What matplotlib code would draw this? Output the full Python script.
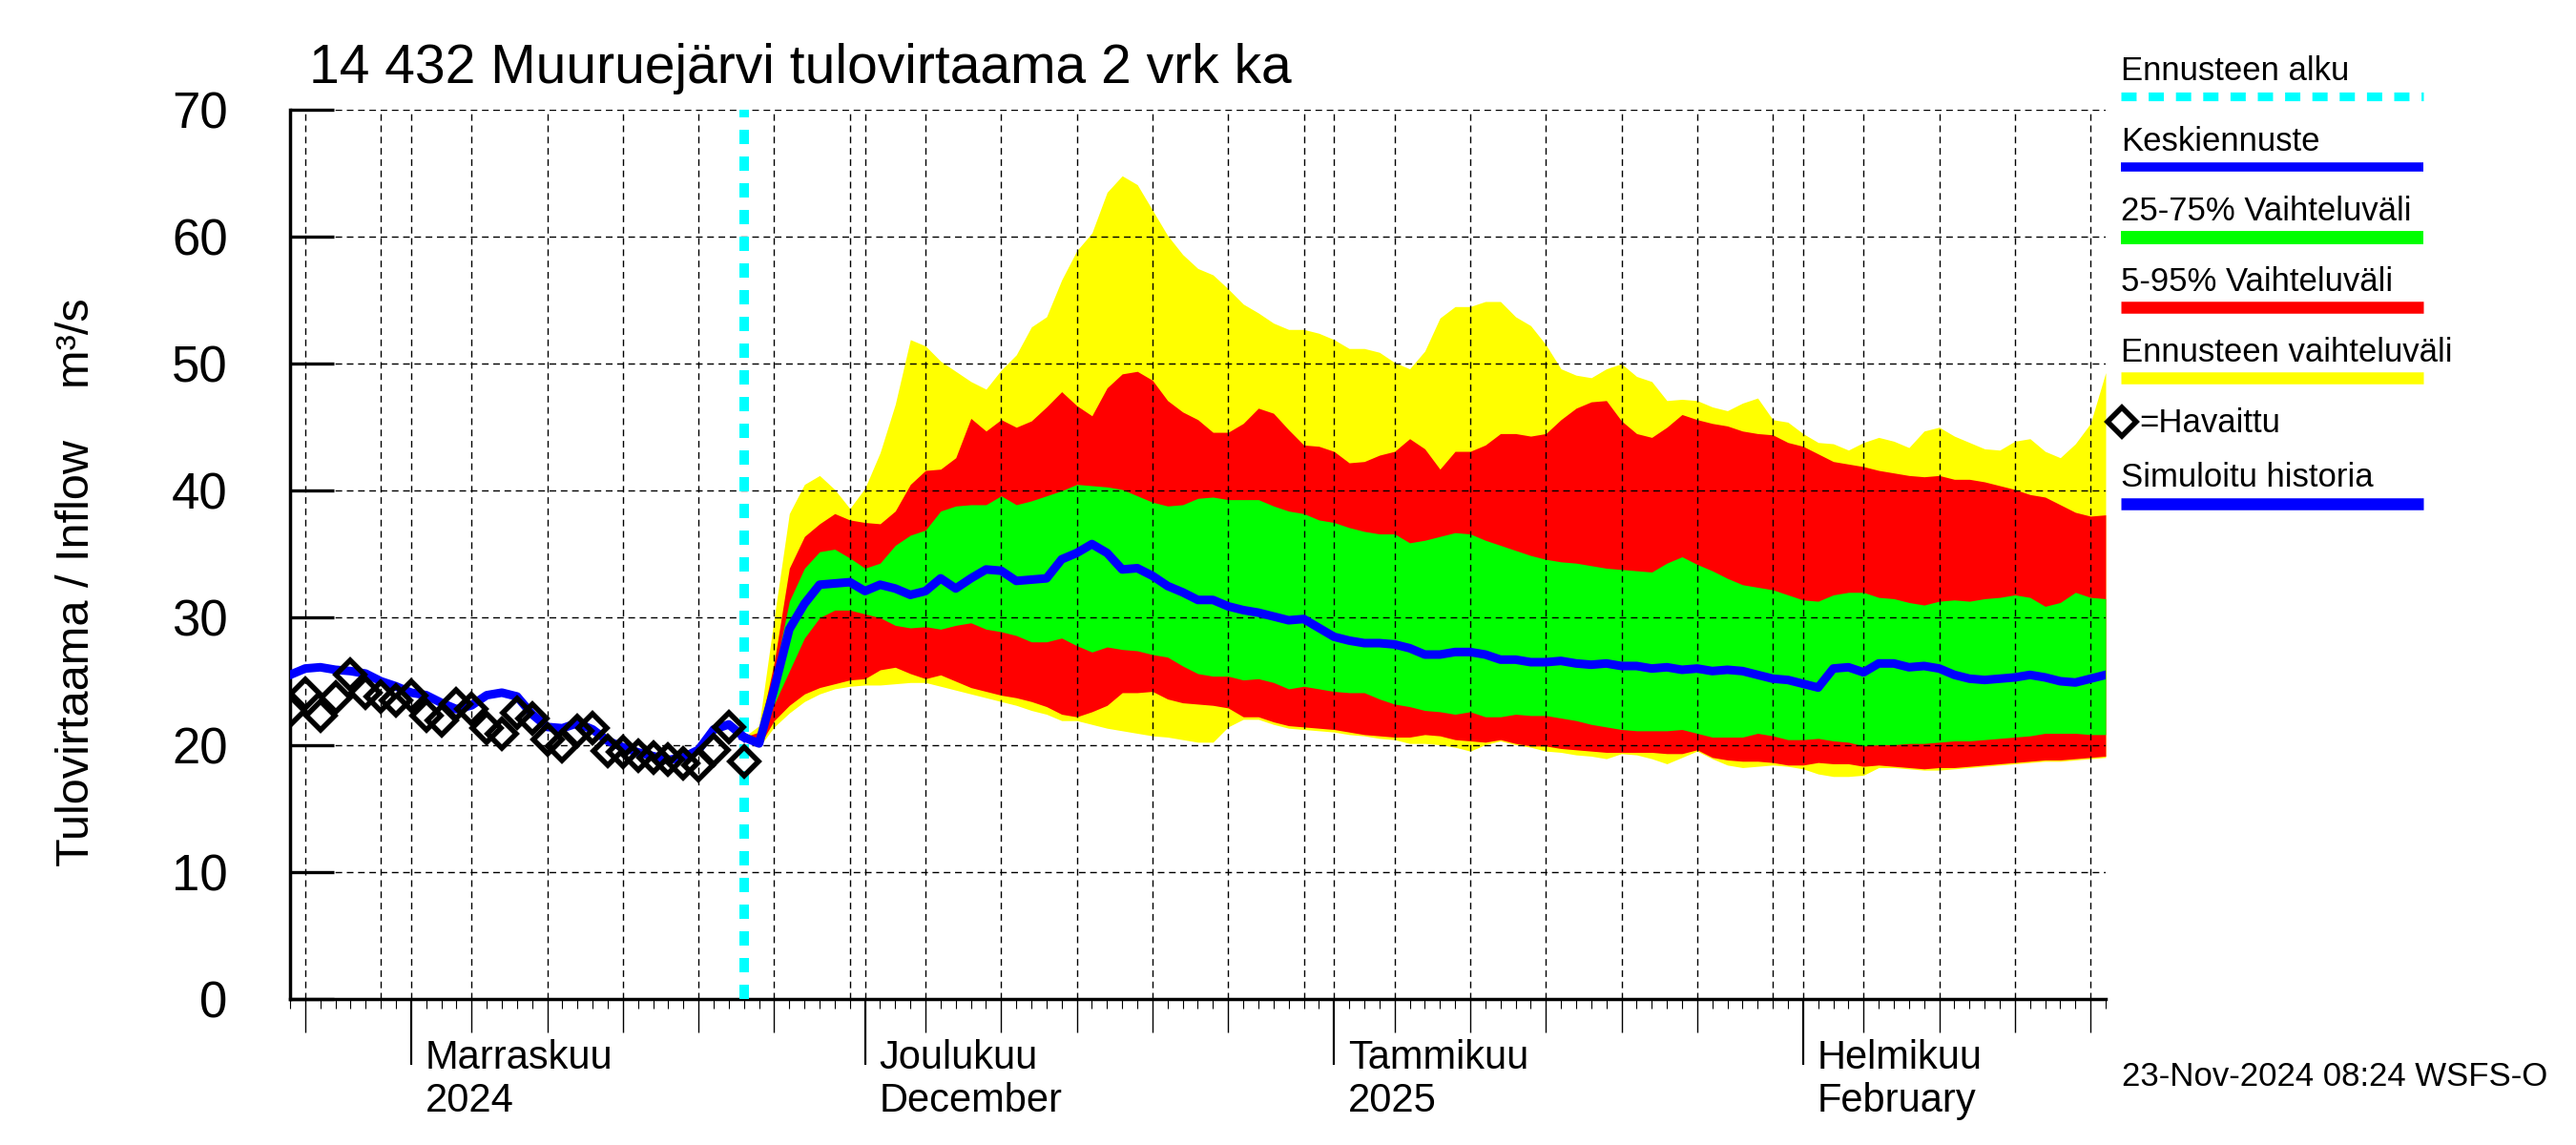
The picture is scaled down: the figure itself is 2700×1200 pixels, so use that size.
import numpy as np
import pandas as pd
import matplotlib
matplotlib.use("Agg")
import matplotlib.pyplot as plt
import matplotlib.transforms as mtransforms
from matplotlib.lines import Line2D
from matplotlib.dates import DayLocator

plt.rcParams["font.family"] = ["Liberation Sans", "DejaVu Sans"]

# --- history: one value per day from 24 Oct 2024 ---------------------------
hist_start = "2024-10-24"
observed = [22.7, 24.0, 22.3, 23.7, 25.5, 24.1, 23.8, 23.5, 23.9, 22.3,
            21.9, 23.2, 22.8, 21.3, 20.9, 22.5, 22.1, 20.4, 19.9, 21.1,
            21.3, 19.5, 19.4, 19.1, 19.0, 18.8, 18.5, 18.4, 19.6, 21.4,
            18.7]
simulated = [25.5, 26.0, 26.1, 25.9, 25.8, 25.6, 25.0, 24.6, 24.1, 23.9,
             23.3, 22.8, 23.1, 23.9, 24.1, 23.8, 22.4, 21.4, 21.3, 21.7,
             21.2, 20.3, 19.8, 19.4, 19.1, 18.8, 19.0, 19.6, 21.2, 21.6,
             20.6]

# --- forecast: one value per day from 23 Nov 2024 --------------------------
fc_start = "2024-11-23"
ens_max = [20.6, 21.5, 30.0, 38.2, 40.5, 41.2, 40.1, 38.6, 40.2, 43.0,
           46.8, 51.9, 51.4, 50.2, 49.4, 48.6, 48.0, 49.5, 50.7, 52.9,
           53.7, 56.6, 58.9, 60.3, 63.5, 64.8, 64.1, 62.1, 60.1, 58.6,
           57.5, 57.0, 55.9, 54.7, 54.0, 53.2, 52.7, 52.7, 52.4, 51.9,
           51.2, 51.2, 50.9, 50.1, 49.6, 51.0, 53.6, 54.5, 54.5, 54.9,
           54.9, 53.7, 53.0, 51.5, 49.6, 49.1, 48.9, 49.6, 50.0, 49.0,
           48.6, 47.1, 47.2, 47.1, 46.6, 46.3, 46.9, 47.3, 45.6, 45.4,
           44.5, 43.8, 43.7, 43.2, 43.8, 44.2, 43.9, 43.4, 44.7, 45.0,
           44.3, 43.8, 43.3, 43.2, 43.9, 44.1, 43.1, 42.6, 43.7, 45.3,
           49.3]
p95 = [20.6, 21.0, 26.5, 33.9, 36.4, 37.4, 38.2, 37.7, 37.5, 37.4,
       38.4, 40.5, 41.6, 41.7, 42.6, 45.7, 44.7, 45.6, 45.0, 45.5,
       46.6, 47.8, 46.7, 45.9, 48.1, 49.2, 49.4, 48.7, 47.1, 46.2,
       45.6, 44.6, 44.6, 45.3, 46.5, 46.1, 44.8, 43.6, 43.5, 43.1,
       42.2, 42.3, 42.8, 43.1, 44.1, 43.3, 41.7, 43.1, 43.1, 43.6,
       44.5, 44.5, 44.3, 44.5, 45.6, 46.5, 47.0, 47.1, 45.5, 44.5,
       44.2, 45.0, 46.0, 45.6, 45.3, 45.1, 44.7, 44.5, 44.4, 43.8,
       43.5, 42.9, 42.3, 42.1, 41.9, 41.6, 41.4, 41.2, 41.1, 41.2,
       40.9, 40.9, 40.7, 40.4, 40.1, 39.7, 39.5, 38.9, 38.3, 38.0,
       38.1]
p75 = [20.6, 20.6, 25.5, 31.3, 33.9, 35.2, 35.4, 34.7, 33.9, 34.3,
       35.7, 36.5, 36.9, 38.4, 38.8, 38.9, 38.9, 39.6, 38.9, 39.2,
       39.6, 40.0, 40.5, 40.4, 40.3, 40.1, 39.6, 39.1, 38.8, 38.9,
       39.4, 39.5, 39.3, 39.3, 39.3, 38.8, 38.4, 38.2, 37.7, 37.5,
       37.1, 36.8, 36.6, 36.6, 35.9, 36.1, 36.4, 36.7, 36.6, 36.1,
       35.7, 35.3, 34.9, 34.6, 34.4, 34.3, 34.1, 33.9, 33.8, 33.7,
       33.6, 34.3, 34.8, 34.2, 33.7, 33.1, 32.6, 32.4, 32.2, 31.8,
       31.4, 31.3, 31.8, 32.0, 32.0, 31.6, 31.5, 31.2, 31.0, 31.3,
       31.4, 31.3, 31.5, 31.6, 31.8, 31.6, 30.9, 31.2, 32.0, 31.6,
       31.5]
median = [20.6, 20.1, 24.4, 29.1, 31.1, 32.6, 32.7, 32.8, 32.1, 32.6,
          32.3, 31.8, 32.1, 33.1, 32.3, 33.1, 33.8, 33.7, 32.9, 33.0,
          33.1, 34.6, 35.1, 35.8, 35.1, 33.8, 33.9, 33.3, 32.5, 32.0,
          31.4, 31.4, 30.9, 30.6, 30.4, 30.1, 29.8, 29.9, 29.2, 28.5,
          28.2, 28.0, 28.0, 27.9, 27.6, 27.1, 27.1, 27.3, 27.3, 27.1,
          26.7, 26.7, 26.5, 26.5, 26.6, 26.4, 26.3, 26.4, 26.2, 26.2,
          26.0, 26.1, 25.9, 26.0, 25.8, 25.9, 25.8, 25.5, 25.2, 25.1,
          24.8, 24.5, 26.0, 26.1, 25.7, 26.4, 26.4, 26.1, 26.2, 26.0,
          25.5, 25.2, 25.1, 25.2, 25.3, 25.5, 25.3, 25.0, 24.9, 25.2,
          25.5]
p25 = [20.6, 20.0, 23.2, 25.8, 28.4, 30.0, 30.6, 30.6, 30.3, 30.0,
       29.4, 29.2, 29.3, 29.1, 29.4, 29.6, 29.1, 28.9, 28.6, 28.1,
       28.1, 28.4, 27.8, 27.3, 27.7, 27.5, 27.4, 27.1, 26.9, 26.2,
       25.6, 25.4, 25.4, 25.1, 25.2, 24.9, 24.4, 24.6, 24.4, 24.2,
       24.1, 24.1, 23.6, 23.2, 23.0, 22.7, 22.6, 22.4, 22.6, 22.2,
       22.2, 22.4, 22.3, 22.3, 22.1, 21.9, 21.6, 21.4, 21.2, 21.1,
       21.1, 21.1, 21.2, 20.9, 20.6, 20.6, 20.6, 20.9, 20.7, 20.4,
       20.4, 20.5, 20.3, 20.2, 19.9, 20.0, 20.0, 20.1, 20.1, 20.2,
       20.3, 20.3, 20.4, 20.5, 20.6, 20.7, 20.9, 20.9, 20.9, 20.8,
       20.8]
p5 = [20.6, 19.9, 21.9, 23.1, 24.0, 24.5, 24.8, 25.1, 25.2, 25.9,
      26.1, 25.6, 25.2, 25.5, 25.0, 24.5, 24.2, 23.9, 23.7, 23.4,
      23.0, 22.4, 22.2, 22.6, 23.1, 24.1, 24.1, 24.2, 23.6, 23.3,
      23.2, 23.1, 22.9, 22.2, 22.2, 21.8, 21.5, 21.4, 21.3, 21.2,
      21.0, 20.8, 20.7, 20.6, 20.6, 20.8, 20.7, 20.4, 20.3, 20.2,
      20.4, 20.1, 19.9, 19.9, 19.7, 19.6, 19.5, 19.4, 19.4, 19.4,
      19.4, 19.3, 19.3, 19.6, 19.0, 18.8, 18.7, 18.7, 18.6, 18.4,
      18.4, 18.6, 18.5, 18.5, 18.3, 18.4, 18.3, 18.2, 18.1, 18.2,
      18.2, 18.3, 18.4, 18.5, 18.6, 18.7, 18.8, 18.8, 18.9, 19.0,
      19.1]
ens_min = [20.6, 19.8, 21.4, 22.5, 23.4, 24.0, 24.4, 24.6, 24.7, 24.7,
           24.8, 24.9, 24.9, 24.6, 24.3, 24.0, 23.7, 23.4, 23.1, 22.7,
           22.4, 21.9, 21.9, 21.6, 21.3, 21.1, 20.9, 20.7, 20.6, 20.4,
           20.2, 20.2, 21.4, 22.0, 22.0, 21.6, 21.3, 21.2, 21.1, 21.0,
           20.8, 20.7, 20.5, 20.4, 20.1, 20.1, 20.0, 19.8, 19.5, 20.0,
           20.3, 20.0, 19.8, 19.5, 19.4, 19.2, 19.1, 18.9, 19.3, 19.2,
           18.9, 18.5, 19.0, 19.5, 18.9, 18.4, 18.2, 18.3, 18.4, 18.3,
           18.1, 17.7, 17.5, 17.5, 17.6, 18.2, 18.2, 18.1, 18.0, 18.0,
           18.1, 18.2, 18.3, 18.4, 18.5, 18.6, 18.7, 18.7, 18.8, 18.9,
           19.0]

month_labels = [("2024-11-01", "Marraskuu", "2024"),
                ("2024-12-01", "Joulukuu", "December"),
                ("2025-01-01", "Tammikuu", "2025"),
                ("2025-02-01", "Helmikuu", "February")]

hist_dates = pd.date_range(hist_start, periods=len(observed), freq="D")
fc_dates = pd.date_range(fc_start, periods=len(median), freq="D")

W, H = 2700, 1200
fig = plt.figure(figsize=(W / 100, H / 100), dpi=100)
ax = fig.add_axes([304 / W, 1 - 1046.7 / H, (2207 - 304) / W, (1046.7 - 115) / H])

def fx(px):
    return px / W

def fy(py):
    return 1 - py / H

# bands
ax.fill_between(fc_dates, ens_min, ens_max, color="#ffff00", lw=0, zorder=1)
ax.fill_between(fc_dates, p5, p95, color="#ff0000", lw=0, zorder=1.1)
ax.fill_between(fc_dates, p25, p75, color="#00ff00", lw=0, zorder=1.2)

ax.axvline(pd.Timestamp(fc_start), color="#00ffff", lw=7.2,
           ls=(0, (1.5, 1.3)), zorder=2.6)

ax.plot(fc_dates, median, color="#0000ff", lw=6.5, zorder=3, solid_joinstyle="round")
ax.plot(hist_dates, simulated, color="#0000ff", lw=6.5, zorder=3, solid_joinstyle="round")
ax.plot(hist_dates, observed, ls="none", marker="D", ms=15, mew=4,
        mec="black", mfc="none", zorder=4)

# axes
ax.set_xlim(pd.Timestamp("2024-10-24"), pd.Timestamp("2025-02-21"))
ax.set_ylim(0, 70)
ax.set_yticks(range(0, 71, 10))
for s in ("top", "right"):
    ax.spines[s].set_visible(False)
for s in ("left", "bottom"):
    ax.spines[s].set_linewidth(2.5)

all_days = pd.date_range("2024-10-24", "2025-02-21", freq="D")
grid_dates = [d for d in all_days if d.day in (1, 5, 10, 15, 20, 25, 30)]
ax.set_xticks(grid_dates)
ax.xaxis.set_minor_locator(DayLocator())
ax.tick_params(axis="x", which="major", direction="out", length=25, width=1,
               labelbottom=False)
ax.tick_params(axis="x", which="minor", direction="out", length=7, width=0.8)
ax.tick_params(axis="y", direction="in", length=33, width=2.4, labelsize=38, pad=47)
for tick, d in zip(ax.xaxis.get_major_ticks(), grid_dates):
    if d.day == 1:
        tick.tick1line.set_markersize(50)
        tick.tick1line.set_markeredgewidth(1.6)
    elif d.day == 30:
        tick.tick1line.set_markersize(7)
        tick.tick1line.set_markeredgewidth(0.8)

ax.set_axisbelow(False)
ax.grid(True, which="major", color="black", ls=(0, (5, 3.5)), lw=1.0)

# month labels beside the long ticks
trans = ax.get_xaxis_transform() + mtransforms.ScaledTranslation(0.15, 0, fig.dpi_scale_trans)
for d, top, bottom in month_labels:
    ax.text(pd.Timestamp(d), -0.0787, top, transform=trans, fontsize=30,
            ha="left", va="baseline")
    ax.text(pd.Timestamp(d), -0.1270, bottom, transform=trans, fontsize=30,
            ha="left", va="baseline")

fig.text(fx(324), fy(87), "14 432 Muuruejärvi tulovirtaama 2 vrk ka",
         fontsize=41, ha="left", va="baseline")
fig.text(fx(81), fy(610), "Tulovirtaama / Inflow    m³/s", fontsize=35,
         rotation=90, ha="center", va="center")
fig.text(fx(2224), fy(1138), "23-Nov-2024 08:24 WSFS-O", fontsize=25,
         ha="left", va="baseline")

# legend on the right
x0, x1 = fx(2223), fx(2540)
legend = [("Ennusteen alku", 84, 101, "#00ffff", 6.6, (0, (1.74, 1.38))),
          ("Keskiennuste", 157.5, 175, "#0000ff", 6.9, "-"),
          ("25-75% Vaihteluväli", 231, 248.6, "#00ff00", 10, "-"),
          ("5-95% Vaihteluväli", 305, 322, "#ff0000", 9, "-"),
          ("Ennusteen vaihteluväli", 378.6, 396, "#ffff00", 9, "-"),
          ("Simuloitu historia", 510.5, 527.7, "#0000ff", 9, "-")]
for label, ty, ly, color, lw, ls in legend:
    fig.text(x0, fy(ty), label, fontsize=25, ha="left", va="baseline")
    fig.add_artist(Line2D([x0, x1], [fy(ly), fy(ly)], transform=fig.transFigure,
                          color=color, lw=lw, ls=ls, solid_capstyle="butt",
                          dash_capstyle="butt"))
fig.add_artist(Line2D([fx(2224)], [fy(442)], transform=fig.transFigure, ls="none",
                      marker="D", ms=15, mew=4, mec="black", mfc="none"))
fig.text(fx(2242), fy(453), "=Havaittu", fontsize=25, ha="left", va="baseline")

fig.savefig("out.png", dpi=100)
